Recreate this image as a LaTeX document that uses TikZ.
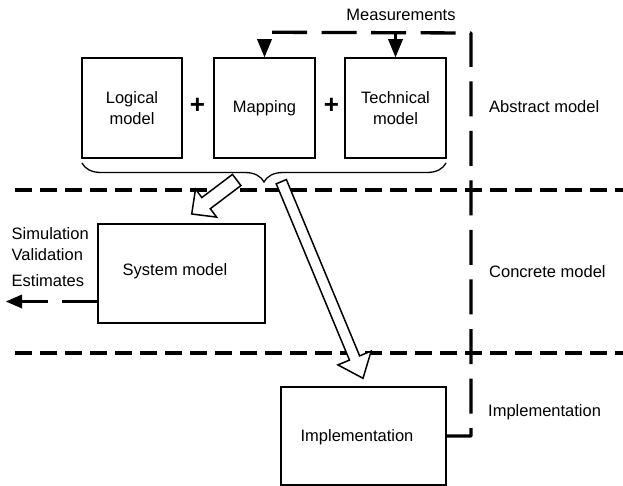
\documentclass[tikz,border=0pt]{standalone}
\usepackage{fontspec}
\setmainfont{Liberation Sans}
\usetikzlibrary{calc,decorations.pathreplacing}
\begin{document}
\begin{tikzpicture}[x=1pt,y=-1pt,
  box/.style={draw, line width=1.5pt, inner sep=0pt, align=center,
    font=\fontsize{16.5}{21}\selectfont},
  lbl/.style={font=\fontsize{16.5}{21}\selectfont, inner sep=0pt},
  plussign/.style={font=\fontsize{26}{26}\selectfont\bfseries, inner sep=0pt},
  sep/.style={line width=4pt, dash pattern=on 17pt off 8pt},
  fb/.style={line width=3.3pt, dash pattern=on 35pt off 14.5pt, line join=round},
  hollow/.style={draw, line width=1.5pt, fill=white, line join=miter},
  tip/.style={fill=black}]
\useasboundingbox (0,0) rectangle (623,486);

% separators
\draw[sep] (15,190.5) -- (623,190.5);
\draw[sep] (15,353) -- (623,353);

% abstract model boxes
\node[box, minimum width=100pt, minimum height=100pt] (log) at (132,108) {Logical\\model};
\node[box, minimum width=101pt, minimum height=100pt] (map) at (264.5,108) {Mapping};
\node[box, minimum width=101pt, minimum height=100pt] (tech) at (395.5,108) {Technical\\model};
\node[plussign] (p1) at (197.5,106) {+};
\node[plussign] (p2) at (331.5,106) {+};

% brace
\draw[line width=1.3pt, decorate, decoration={brace, mirror, amplitude=19pt}]
  (82,163) -- (446,163);
\coordinate (bracetip) at (264,182);

% concrete model
\node[box, minimum width=167pt, minimum height=99pt] (sys) at (181.5,273.5) {};
\node[lbl] (systxt) at (175,271) {System model};

% implementation
\node[box, minimum width=165pt, minimum height=98pt] (impl) at (363.5,436) {};
\node[lbl] (impltxt) at (357,437) {Implementation};

% right labels
\node[lbl, anchor=west] (abs) at (489,107) {Abstract model};
\node[lbl, anchor=west] (conc) at (489,272) {Concrete model};
\node[lbl, anchor=west] (implbl) at (488,412) {Implementation};

% measurements
\node[lbl] (meas) at (401,15) {Measurements};

% feedback loop from implementation to mapping
\coordinate (fbstart) at ($(map.north)+(0,-18)$);
\coordinate (fbtl) at ($(map.north)+(0,-25)$);
\coordinate (fbtr) at (471,33);
\coordinate (fbbr) at (471,436);
\draw[fb, dash phase=35pt] (fbstart) -- (fbtl) -- (fbtr) -- (fbbr) -- (impl.east);
\fill[tip] ($(map.north)+(-7.5,-18)$) -- ($(map.north)+(7.5,-18)$) -- (map.north) -- cycle;
% measurement arrow to technical model
\coordinate (mtop) at ($(tech.north)+(0,-25)$);
\draw[line width=3.3pt] (mtop) -- ($(tech.north)+(0,-16)$);
\fill[tip] ($(tech.north)+(-7.5,-18)$) -- ($(tech.north)+(7.5,-18)$) -- (tech.north) -- cycle;

% output arrow from system model
\coordinate (outend) at (6,301.5);
\draw[fb] (sys.west |- outend) -- (22,301.5);
\fill[tip] (outend) -- (22,294.5) -- (22,308.5) -- cycle;
\node[lbl, anchor=base west] (sim) at (11.5,240) {Simulation};
\node[lbl, anchor=base west] (val) at (11.5,260) {Validation};
\node[lbl, anchor=base west] (est) at (11.5,286.5) {Estimates};

% hollow arrow 1: abstract -> system model
\coordinate (t1) at (236.7,180);
\coordinate (q1) at (191.7,214);
\coordinate (b1) at ($(q1)!18pt!(t1)$);
\draw[hollow] ($(t1)!7pt!90:(q1)$) -- ($(b1)!7pt!90:(q1)$) -- ($(b1)!17.5pt!90:(q1)$)
  -- (q1) -- ($(b1)!17.5pt!-90:(q1)$) -- ($(b1)!7pt!-90:(q1)$) -- ($(t1)!7pt!-90:(q1)$) -- cycle;

% hollow arrow 2: abstract -> implementation
\coordinate (t2) at (281.3,181.7);
\coordinate (q2) at (363,378.3);
\coordinate (b2) at ($(q2)!22pt!(t2)$);
\draw[hollow] ($(t2)!5.5pt!90:(q2)$) -- ($(b2)!5.5pt!90:(q2)$) -- ($(b2)!18pt!90:(q2)$)
  -- (q2) -- ($(b2)!18pt!-90:(q2)$) -- ($(b2)!5.5pt!-90:(q2)$) -- ($(t2)!5.5pt!-90:(q2)$) -- cycle;
\end{tikzpicture}
\end{document}
